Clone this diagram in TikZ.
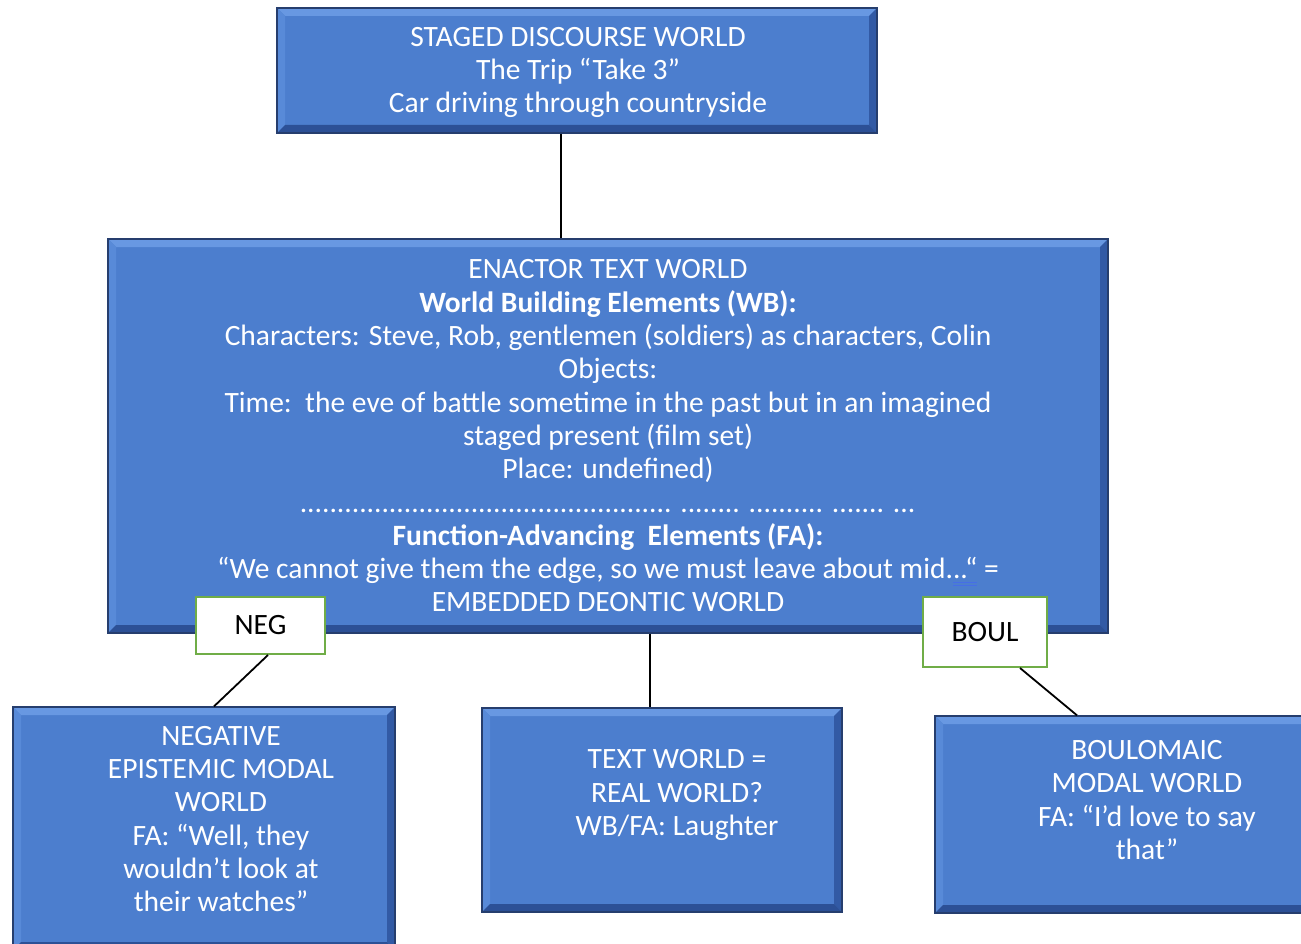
\documentclass[tikz,border=0pt]{standalone}
\usepackage{fontspec}
\setmainfont{Carlito}
\usetikzlibrary{calc}

\definecolor{boxblue}{RGB}{76,126,206}
\definecolor{boxedge}{RGB}{38,62,110}
\definecolor{bevtop}{RGB}{104,152,226}
\definecolor{bevleft}{RGB}{88,138,216}
\definecolor{bevright}{RGB}{50,90,165}
\definecolor{bevbottom}{RGB}{44,80,150}
\definecolor{taggreen}{RGB}{112,173,71}
\definecolor{markblue}{RGB}{70,110,230}

% blue double underline, as a proofing mark under a few characters
\newcommand\proofmark[1]{\setbox0\hbox{#1}%
  \rlap{\raisebox{-4pt}{\color{markblue}\rule{\wd0}{1pt}}}%
  \rlap{\raisebox{-7pt}{\color{markblue}\rule{\wd0}{1pt}}}\box0\relax}

\tikzset{
  worldbox/.style={draw=boxedge, line width=1.3pt, fill=boxblue, inner sep=0pt,
    path picture={
      \path (path picture bounding box.north west) coordinate (bnw)
            (path picture bounding box.north east) coordinate (bne)
            (path picture bounding box.south east) coordinate (bse)
            (path picture bounding box.south west) coordinate (bsw);
      \fill[bevtop] (bnw) -- (bne) -- ([shift={(-8,8)}]bne) -- ([shift={(8,8)}]bnw) -- cycle;
      \fill[bevleft] (bnw) -- ([shift={(8,8)}]bnw) -- ([shift={(8,-8)}]bsw) -- (bsw) -- cycle;
      \fill[bevright] (bne) -- ([shift={(-8,8)}]bne) -- ([shift={(-8,-8)}]bse) -- (bse) -- cycle;
      \fill[bevbottom] (bsw) -- ([shift={(8,-8)}]bsw) -- ([shift={(-8,-8)}]bse) -- (bse) -- cycle;
    }},
  wtext/.style={text=white, font=\fontsize{29.5}{33.3}\selectfont, align=center, inner sep=0pt},
  tagbox/.style={draw=taggreen, line width=2pt, fill=white, inner sep=0pt,
    font=\fontsize{29.5}{33}\selectfont},
  link/.style={draw=black, line width=1.8pt}
}

\begin{document}
\begin{tikzpicture}[x=1pt, y=-1pt]
\useasboundingbox (0,0) rectangle (1301,944);
\clip (0,0) rectangle (1301,944);

% staged discourse world
\node[worldbox, minimum width=600pt, minimum height=125pt] (top) at (577,70.5) {};
\node[wtext] (toptext) at (578,72.5)
  {STAGED DISCOURSE WORLD\\ The Trip “Take 3”\\ Car driving through countryside};

% enactor text world
\node[worldbox, wtext, minimum width=1000pt, minimum height=394pt] (mid) at (608,436)
  {ENACTOR TEXT WORLD\\
   \textbf{World Building Elements (WB):}\\
   Characters: Steve, Rob, gentlemen (soldiers) as characters, Colin\\
   Objects:\\
   Time:\ \ the eve of battle sometime in the past but in an imagined\\
   staged present (film set)\\
   Place: undefined)\\
   .................................................. ........ .......... ....... ...\\
   \textbf{Function-Advancing\ \ Elements (FA):}\\
   “We cannot give them the edge, so we must leave about mid.\proofmark{..“} =\\
   EMBEDDED DEONTIC WORLD};

% modal world tags
\node[tagbox, minimum width=129pt, minimum height=57pt] (neg) at (260.5,625.5) {NEG};
\node[tagbox, minimum width=124pt, minimum height=70pt] (boul) at (985,632) {BOUL};

% sub-worlds
\node[worldbox, minimum width=382pt, minimum height=243pt] (nwbox) at (204,828.5) {};
\node[wtext] (nwtext) at (221,819)
  {NEGATIVE\\ EPISTEMIC MODAL\\ WORLD\\ FA: “Well, they\\ wouldn’t look at\\ their watches”};

\node[worldbox, minimum width=360pt, minimum height=204pt] (twbox) at (662,810) {};
\node[wtext] (twtext) at (677,795)
  {TEXT WORLD =\\ REAL WORLD?\\ WB/FA: Laughter};

\node[worldbox, minimum width=385pt, minimum height=197pt] (bwbox) at (1127.5,814.5) {};
\node[wtext] (bwtext) at (1147,800)
  {BOULOMAIC\\ MODAL WORLD\\ FA: “I’d love to say\\ that”};

% connectors
\coordinate (c1) at ([xshift=-16pt]top.south);
\draw[link] (c1) -- (c1 |- mid.north);
\coordinate (c2) at ([xshift=42pt]mid.south);
\draw[link] (c2) -- (c2 |- twbox.north);
\draw[link] ([xshift=7.5pt]neg.south) -- ([xshift=10pt]nwbox.north);
\draw[link] ([xshift=35pt]boul.south) -- ([xshift=-50.5pt]bwbox.north);
\end{tikzpicture}
\end{document}
